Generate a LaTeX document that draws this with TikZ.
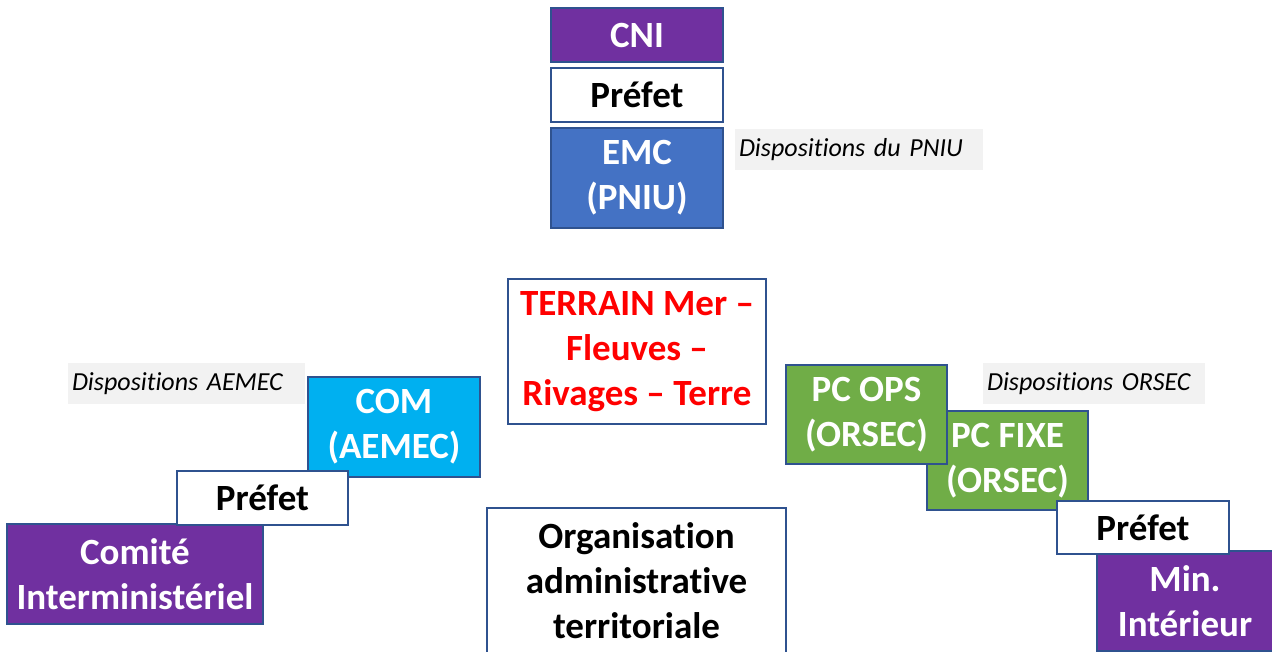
\documentclass[tikz,border=0pt]{standalone}
\usepackage{fontspec}
\setmainfont{Carlito}[Ligatures={NoCommon}]
\definecolor{purp}{HTML}{7030A0}
\definecolor{bluebox}{HTML}{4472C4}
\definecolor{cyanbox}{HTML}{00B0F0}
\definecolor{greenbox}{HTML}{70AD47}
\definecolor{outline}{HTML}{2F528F}
\definecolor{lblgray}{HTML}{F2F2F2}
\definecolor{redtxt}{HTML}{FF0000}
\tikzset{
  box/.style={draw=outline, line width=1.3pt, rectangle, inner sep=0pt, align=center,
    font=\fontsize{37}{45}\selectfont\bfseries},
  purplebox/.style={box, fill=purp, text=white},
  bluefill/.style={box, fill=bluebox, text=white},
  cyanfill/.style={box, fill=cyanbox, text=white},
  greenfill/.style={box, fill=greenbox, text=white},
  whitebox/.style={box, fill=white, text=black},
  lbl/.style={fill=lblgray, rectangle, inner xsep=4pt, inner ysep=0pt, align=left,
    font=\fontsize{26}{30}\selectfont\itshape},
}
\begin{document}
\begin{tikzpicture}[x=1pt,y=-1pt]
\useasboundingbox (0,0) rectangle (1272,651);
\fill[white] (0,0) rectangle (1272,651);
% top column
\node[purplebox, minimum width=172, minimum height=54] (cni) at (637,35) {CNI};
\node[whitebox, minimum width=172, minimum height=54] (preft) at (637,95) {Préfet};
\node[bluefill, minimum width=172, minimum height=100] (emc) at (637,178) {EMC\\(PNIU)};
\node[lbl, minimum width=248, minimum height=41, text width=240] (pniu) at (859,149.5) {Dispositions du PNIU};
% centre
\node[whitebox, text=redtxt, minimum width=258, minimum height=145] (terrain) at (637,351.5) {TERRAIN Mer –\\Fleuves –\\Rivages – Terre};
\node[whitebox, minimum width=299, minimum height=145] (orga) at (636.5,580.5) {Organisation\\administrative\\territoriale};
% left
\node[lbl, minimum width=237, minimum height=41, text width=229] (aemec) at (186.5,383.5) {Dispositions AEMEC};
\node[cyanfill, minimum width=172, minimum height=100] (com) at (394,427) {COM\\(AEMEC)};
\node[purplebox, minimum width=256, minimum height=100] (comite) at (135,574) {Comité\\Interministériel};
\node[whitebox, minimum width=171, minimum height=54] (prefl) at (262.5,498) {Préfet};
% right
\node[lbl, minimum width=222, minimum height=41, text width=214] (orsec) at (1094,383.5) {Dispositions ORSEC};
\node[greenfill, minimum width=161, minimum height=99] (pcfixe) at (1007.5,460.5) {PC FIXE\\(ORSEC)};
\node[greenfill, minimum width=161, minimum height=99] (pcops) at (866.5,414.5) {PC OPS\\(ORSEC)};
\node[purplebox, minimum width=176, minimum height=100] (minint) at (1185,601) {Min.\\Intérieur};
\node[whitebox, minimum width=172, minimum height=53] (prefr) at (1143,527.5) {Préfet};
\end{tikzpicture}
\end{document}
